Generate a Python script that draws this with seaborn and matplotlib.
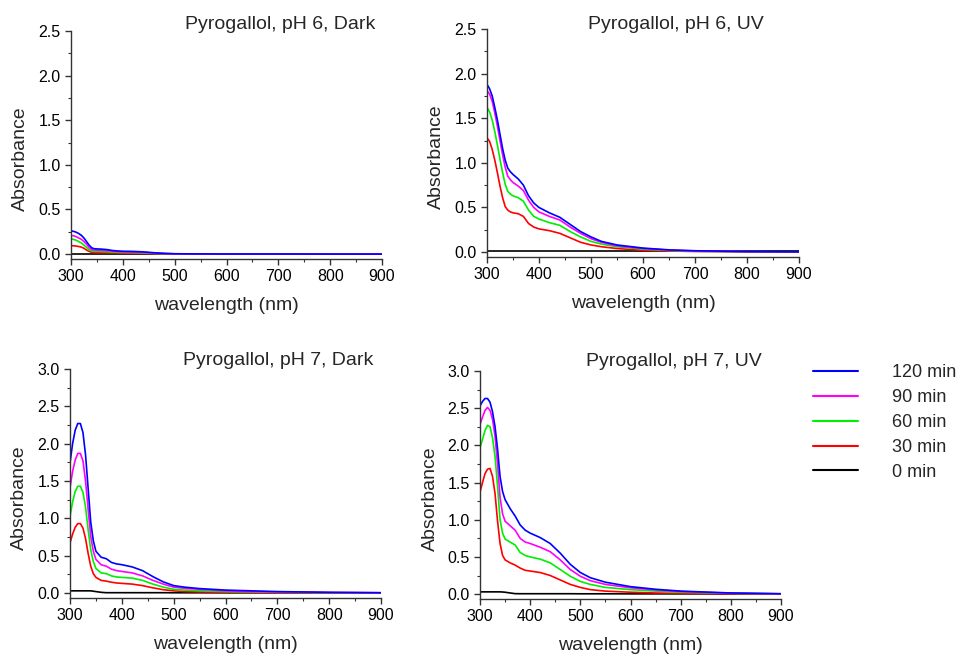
import numpy as np
import pandas as pd
import matplotlib
matplotlib.use("Agg")
import matplotlib.pyplot as plt
from matplotlib.lines import Line2D
from matplotlib.ticker import MultipleLocator
import seaborn as sns

# ---------------- data ----------------
wavelength = [300, 305, 310, 315, 320, 325, 330, 335, 340, 345, 350, 360, 370, 380,
              390, 400, 420, 440, 460, 480, 500, 520, 550, 600, 650, 700, 800, 900]
times = ["0 min", "30 min", "60 min", "90 min", "120 min"]
colors = ["#000000", "#ff0000", "#00ee00", "#ff00ff", "#0000ff"]
titles = ["Pyrogallol, pH 6, Dark", "Pyrogallol, pH 6, UV",
          "Pyrogallol, pH 7, Dark", "Pyrogallol, pH 7, UV"]

# pH 6, Dark
ph6_dark_0 = [0.005] * 28
ph6_dark_30 = [0.095, 0.093, 0.09, 0.085, 0.078, 0.065, 0.045, 0.03, 0.02, 0.017, 0.016, 0.015, 0.014, 0.012,
               0.011, 0.01, 0.009, 0.007, 0.005, 0.003, 0.002, 0.002, 0.001, 0.001, 0.001, 0.0, 0.0, 0.0]
ph6_dark_60 = [0.17, 0.165, 0.155, 0.14, 0.125, 0.10, 0.075, 0.05, 0.035, 0.03, 0.03, 0.028, 0.026, 0.022,
               0.02, 0.018, 0.016, 0.012, 0.008, 0.004, 0.002, 0.002, 0.001, 0.001, 0.001, 0.0, 0.0, 0.0]
ph6_dark_90 = [0.21, 0.205, 0.195, 0.18, 0.165, 0.14, 0.11, 0.075, 0.05, 0.045, 0.044, 0.042, 0.04, 0.032,
               0.028, 0.025, 0.022, 0.018, 0.012, 0.006, 0.003, 0.002, 0.002, 0.001, 0.001, 0.0, 0.0, 0.0]
ph6_dark_120 = [0.26, 0.255, 0.245, 0.23, 0.21, 0.18, 0.14, 0.10, 0.07, 0.06, 0.058, 0.055, 0.05, 0.04,
                0.035, 0.032, 0.03, 0.025, 0.015, 0.008, 0.004, 0.003, 0.002, 0.001, 0.001, 0.001, 0.0, 0.0]

# pH 6, UV
ph6_uv_0 = [0.012] * 28
ph6_uv_30 = [1.28, 1.24, 1.15, 1.03, 0.89, 0.74, 0.61, 0.51, 0.47, 0.45, 0.44, 0.43, 0.40, 0.32,
             0.28, 0.26, 0.24, 0.21, 0.16, 0.11, 0.08, 0.06, 0.04, 0.02, 0.012, 0.007, 0.003, 0.001]
ph6_uv_60 = [1.62, 1.57, 1.48, 1.35, 1.20, 1.04, 0.89, 0.76, 0.68, 0.65, 0.63, 0.61, 0.57, 0.47,
             0.40, 0.37, 0.33, 0.30, 0.23, 0.17, 0.12, 0.09, 0.06, 0.033, 0.018, 0.01, 0.004, 0.001]
ph6_uv_90 = [1.81, 1.77, 1.69, 1.56, 1.41, 1.25, 1.09, 0.95, 0.85, 0.81, 0.78, 0.74, 0.69, 0.58,
             0.50, 0.45, 0.40, 0.36, 0.28, 0.21, 0.15, 0.11, 0.07, 0.04, 0.022, 0.013, 0.005, 0.002]
ph6_uv_120 = [1.88, 1.83, 1.75, 1.62, 1.48, 1.32, 1.16, 1.03, 0.94, 0.90, 0.87, 0.82, 0.75, 0.63,
              0.55, 0.50, 0.44, 0.39, 0.31, 0.23, 0.17, 0.12, 0.08, 0.045, 0.025, 0.015, 0.006, 0.003]

# pH 7, Dark
ph7_dark_0 = [0.03, 0.03, 0.03, 0.03, 0.03, 0.03, 0.03, 0.03, 0.03, 0.025, 0.02, 0.01, 0.005, 0.005,
              0.005, 0.005, 0.005, 0.005, 0.005, 0.005, 0.004, 0.004, 0.004, 0.003, 0.003, 0.003, 0.002, 0.002]
ph7_dark_30 = [0.67, 0.79, 0.88, 0.93, 0.93, 0.87, 0.73, 0.53, 0.36, 0.26, 0.21, 0.17, 0.16, 0.145,
               0.135, 0.13, 0.12, 0.10, 0.07, 0.045, 0.03, 0.02, 0.015, 0.01, 0.007, 0.005, 0.003, 0.002]
ph7_dark_60 = [1.03, 1.22, 1.36, 1.43, 1.43, 1.35, 1.15, 0.85, 0.58, 0.42, 0.33, 0.27, 0.26, 0.23,
               0.215, 0.21, 0.20, 0.17, 0.12, 0.08, 0.05, 0.04, 0.03, 0.02, 0.015, 0.01, 0.005, 0.003]
ph7_dark_90 = [1.41, 1.63, 1.78, 1.87, 1.87, 1.77, 1.50, 1.12, 0.76, 0.56, 0.45, 0.38, 0.36, 0.32,
               0.30, 0.29, 0.27, 0.23, 0.17, 0.12, 0.08, 0.065, 0.05, 0.03, 0.02, 0.015, 0.008, 0.004]
ph7_dark_120 = [1.74, 2.00, 2.18, 2.27, 2.27, 2.15, 1.85, 1.40, 0.95, 0.70, 0.56, 0.48, 0.46, 0.41,
                0.39, 0.38, 0.35, 0.30, 0.22, 0.15, 0.10, 0.08, 0.06, 0.04, 0.03, 0.02, 0.01, 0.005]

# pH 7, UV
ph7_uv_0 = [0.03, 0.03, 0.03, 0.03, 0.03, 0.03, 0.03, 0.03, 0.03, 0.028, 0.025, 0.015, 0.006, 0.005,
            0.005, 0.005, 0.005, 0.005, 0.005, 0.005, 0.004, 0.004, 0.004, 0.003, 0.003, 0.003, 0.002, 0.002]
ph7_uv_30 = [1.37, 1.50, 1.62, 1.68, 1.69, 1.58, 1.35, 0.98, 0.68, 0.52, 0.46, 0.42, 0.39, 0.35,
             0.32, 0.31, 0.29, 0.25, 0.19, 0.13, 0.09, 0.06, 0.04, 0.025, 0.015, 0.01, 0.005, 0.002]
ph7_uv_60 = [1.97, 2.08, 2.20, 2.27, 2.25, 2.10, 1.85, 1.45, 1.00, 0.82, 0.74, 0.70, 0.66, 0.56,
             0.52, 0.50, 0.47, 0.42, 0.33, 0.24, 0.17, 0.13, 0.09, 0.06, 0.04, 0.025, 0.01, 0.003]
ph7_uv_90 = [2.28, 2.38, 2.47, 2.51, 2.47, 2.35, 2.12, 1.75, 1.30, 1.08, 0.98, 0.92, 0.86, 0.75,
             0.70, 0.68, 0.63, 0.57, 0.46, 0.33, 0.24, 0.18, 0.13, 0.085, 0.055, 0.035, 0.012, 0.004]
ph7_uv_120 = [2.53, 2.59, 2.63, 2.63, 2.58, 2.45, 2.25, 1.95, 1.58, 1.38, 1.27, 1.15, 1.05, 0.93,
              0.86, 0.82, 0.76, 0.68, 0.55, 0.40, 0.29, 0.22, 0.16, 0.10, 0.065, 0.04, 0.015, 0.005]

panels = [
    [ph6_dark_0, ph6_dark_30, ph6_dark_60, ph6_dark_90, ph6_dark_120],
    [ph6_uv_0, ph6_uv_30, ph6_uv_60, ph6_uv_90, ph6_uv_120],
    [ph7_dark_0, ph7_dark_30, ph7_dark_60, ph7_dark_90, ph7_dark_120],
    [ph7_uv_0, ph7_uv_30, ph7_uv_60, ph7_uv_90, ph7_uv_120],
]
ytops = [2.5, 2.5, 3.0, 3.0]

# ---------------- style ----------------
sns.set_style("ticks")
plt.rcParams["font.family"] = ["Liberation Sans", "DejaVu Sans"]
plt.rcParams["axes.edgecolor"] = "#333333"
plt.rcParams["axes.linewidth"] = 1.0

W, H = 961, 654
fig = plt.figure(figsize=(W / 100, H / 100), dpi=100)

# axes rectangles in pixels: left, right, top, bottom
rects_px = [(71, 382, 31, 259), (487, 799, 29, 257), (70, 381, 369, 598), (480, 781, 371, 599)]
title_px = [(375, 29), (764, 29), (373, 365), (762, 366)]

palette = dict(zip(times, colors))
axes = []
for i, (series, ytop) in enumerate(zip(panels, ytops)):
    l, r, t, b = rects_px[i]
    ax = fig.add_axes([l / W, 1 - b / H, (r - l) / W, (b - t) / H])
    axes.append(ax)
    frames = []
    for tname, vals in zip(times, series):
        frames.append(pd.DataFrame({"wavelength": wavelength, "absorbance": vals, "time": tname}))
    df = pd.concat(frames, ignore_index=True)
    sns.lineplot(data=df, x="wavelength", y="absorbance", hue="time", hue_order=times,
                 palette=palette, linewidth=1.2, legend=False, ax=ax, estimator=None)
    ax.set_xlim(300, 900)
    ax.set_ylim(-0.055 * ytop / 2.5, ytop)
    ax.xaxis.set_major_locator(MultipleLocator(100))
    ax.xaxis.set_minor_locator(MultipleLocator(50))
    ax.yaxis.set_major_locator(MultipleLocator(0.5))
    ax.yaxis.set_minor_locator(MultipleLocator(0.25))
    ax.tick_params(which="major", direction="out", length=4.5, width=1.0, labelsize=11.5,
                   colors="#333333", labelcolor="black", pad=3)
    ax.tick_params(which="minor", direction="out", length=2.5, width=0.8, colors="#333333")
    sns.despine(ax=ax)
    ax.set_xlabel("wavelength (nm)", fontsize=14, labelpad=9)
    ax.set_ylabel("Absorbance", fontsize=14, labelpad=6)
    ax.yaxis.set_label_coords(-0.135, 0.44)
    tx, ty = title_px[i]
    fig.text(tx / W, 1 - ty / H, titles[i], ha="right", va="baseline", fontsize=14)

handles = [Line2D([], [], color=c, linewidth=1.5) for c in colors][::-1]
labels = times[::-1]
fig.legend(handles, labels, loc="upper left", bbox_to_anchor=(813 / W, 1 - 364 / H),
           frameon=False, fontsize=13, handlelength=2.5, handletextpad=1.9,
           labelspacing=0.44, borderpad=0, borderaxespad=0)

fig.savefig("out.png", dpi=100)
